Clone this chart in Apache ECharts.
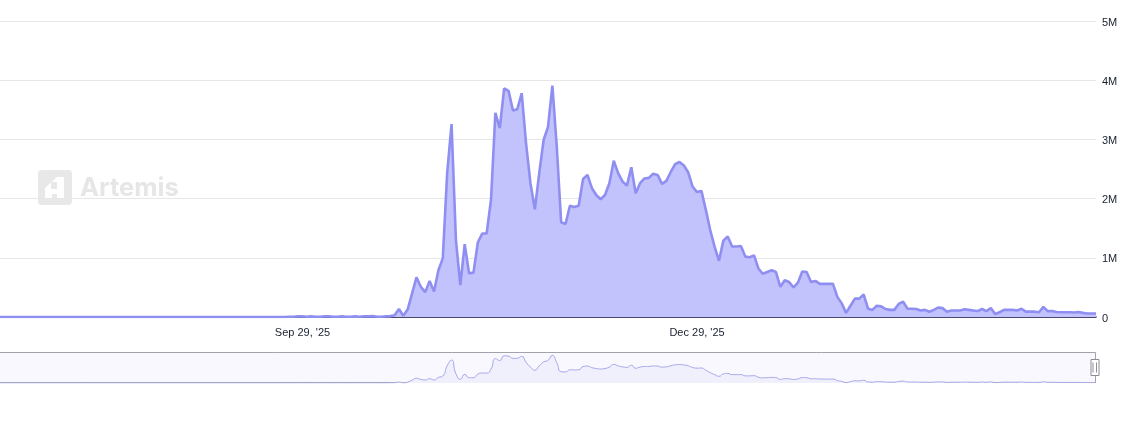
<!DOCTYPE html>
<html>
<head>
<meta charset="utf-8">
<title>Artemis chart</title>
<script src="https://cdn.jsdelivr.net/npm/echarts@6/dist/echarts.min.js"></script>
<style>
  html, body { margin: 0; padding: 0; background: #fff; }
  #chart { width: 1134px; height: 421px; }
</style>
</head>
<body>
<div id="chart"></div>
<script>
const tickLabels = { 69: "Sep 29, '25", 159: "Dec 29, '25" };
const yTicks = { 0: '0', 1000000: '1M', 2000000: '2M', 3000000: '3M', 4000000: '4M', 5000000: '5M' };

// values in millions
const quietStart = [
  0, 0, 0, 0, 0, 0, 0, 0, 0, 0, 0, 0, 0, 0, 0, 0, 0, 0, 0, 0,
  0, 0, 0, 0, 0, 0, 0, 0, 0, 0, 0, 0, 0, 0, 0, 0, 0, 0, 0, 0,
  0, 0, 0, 0, 0, 0, 0, 0, 0, 0, 0, 0, 0, 0, 0, 0, 0, 0, 0, 0,
  0, 0, 0, 0, 0, 0, 0.005, 0.005, 0.01, 0.01, 0.005, 0.01, 0.005, 0.005, 0.01, 0.01, 0.005, 0.005, 0.01, 0.005,
  0.005, 0.01, 0.005, 0.01, 0.01, 0.015, 0.005, 0.005, 0.01, 0.015
];
const launchValues = [
  0.03, 0.135, 0.02, 0.13, 0.40, 0.67, 0.51, 0.42, 0.61, 0.43,
  0.79, 0.99, 2.43, 3.26, 1.30, 0.54, 1.23, 0.74, 0.75, 1.26,
  1.41, 1.41, 1.98, 3.45, 3.19, 3.86, 3.82, 3.49, 3.51, 3.78,
  2.93, 2.26, 1.82, 2.43, 2.99, 3.21, 3.91, 2.88, 1.60, 1.57,
  1.88, 1.86, 1.88
];
const plateauValues = [
  2.33, 2.40, 2.18, 2.06, 1.99, 2.06, 2.26, 2.64, 2.43, 2.29,
  2.22, 2.53, 2.09, 2.26, 2.34, 2.35, 2.42, 2.40, 2.25, 2.30,
  2.45, 2.58, 2.62, 2.56, 2.44, 2.20, 2.11, 2.13, 1.81, 1.47,
  1.19, 0.95, 1.29, 1.36, 1.19, 1.19, 1.20, 1.02, 1.01, 1.04,
  0.82, 0.73, 0.76
];
const tailValues = [
  0.79, 0.76, 0.51, 0.62, 0.59, 0.50, 0.58, 0.77, 0.76, 0.59,
  0.61, 0.56, 0.56, 0.56, 0.56, 0.34, 0.23, 0.07, 0.19, 0.31,
  0.31, 0.38, 0.14, 0.12, 0.19, 0.18, 0.135, 0.12, 0.12, 0.22,
  0.26, 0.14, 0.14, 0.135, 0.11, 0.12, 0.09, 0.12, 0.16, 0.15,
  0.09, 0.11, 0.11, 0.11, 0.13, 0.12, 0.11, 0.10, 0.135, 0.10,
  0.15, 0.05, 0.08, 0.12, 0.12, 0.12, 0.11, 0.14, 0.09, 0.09,
  0.09, 0.08, 0.17, 0.10, 0.10, 0.085, 0.08, 0.08, 0.08, 0.075,
  0.085, 0.07, 0.06, 0.06, 0.06
];

const values = [...quietStart, ...launchValues, ...plateauValues, ...tailValues].map(v => v * 1e6);
const categories = values.map((v, i) => tickLabels[i] || String(i));

const lineColor = '#8f8ff2';
const inkColor = '#18202e';
const logoGray = '#e8e8e8';

const chart = echarts.init(document.getElementById('chart'), null, { renderer: 'canvas' });

chart.setOption({
  animation: false,
  backgroundColor: '#fff',
  grid: [
    { left: 0, right: 38, top: 21, bottom: 104 },
    // overview strip behind the slider
    { left: 0, right: 38, top: 352, height: 31, show: true, backgroundColor: '#f8f8fe', borderWidth: 0 }
  ],
  xAxis: [{
    type: 'category',
    data: categories,
    boundaryGap: false,
    axisLine: { show: true, lineStyle: { color: '#14144a', width: 1.5 } },
    axisTick: { show: false },
    splitLine: { show: false },
    axisLabel: {
      interval: (i) => i in tickLabels,
      color: inkColor,
      fontFamily: 'Liberation Sans',
      fontSize: 11,
      margin: 10,
      hideOverlap: false
    }
  }, {
    type: 'category',
    gridIndex: 1,
    data: categories,
    boundaryGap: false,
    show: false
  }],
  yAxis: [{
    type: 'value',
    position: 'right',
    min: 0,
    max: 5000000,
    interval: 1000000,
    axisLine: { show: false },
    axisTick: { show: false },
    splitLine: { lineStyle: { color: '#e6e6e6', width: 1 } },
    axisLabel: {
      formatter: (v) => yTicks[v],
      color: inkColor,
      fontFamily: 'Liberation Sans',
      fontSize: 11,
      margin: 6,
      verticalAlign: 'top',
      lineHeight: 3
    }
  }, {
    type: 'value',
    gridIndex: 1,
    min: 0,
    max: 4400000,
    show: false
  }],
  dataZoom: [{
    type: 'slider',
    xAxisIndex: 0,
    start: 0,
    end: 100,
    left: -8,
    right: 39,
    top: 352,
    height: 31,
    brushSelect: false,
    showDetail: false,
    showDataShadow: false,
    moveHandleSize: 0,
    borderColor: '#a3a3ab',
    backgroundColor: 'rgba(0,0,0,0)',
    fillerColor: 'rgba(0,0,0,0)',
    handleIcon: 'path://M-4,-8 H4 V8 H-4 Z M-2,-5 V5 M1.5,-5 V5',
    handleSize: 16,
    handleStyle: { color: '#fff', borderColor: '#8d8d95', borderWidth: 1 },
    emphasis: { handleStyle: { color: '#fff', borderColor: '#8d8d95' } }
  }],
  graphic: [{
    type: 'group',
    silent: true,
    z: 0,
    children: [
      { type: 'rect', shape: { x: 38, y: 170, width: 34, height: 35, r: 4 }, style: { fill: logoGray } },
      { type: 'polygon', shape: { points: [[57, 177], [64, 177], [64, 199], [57, 199], [57, 194], [52, 194], [52, 199], [45, 199], [45, 188]] }, style: { fill: '#fff' } },
      { type: 'rect', shape: { x: 51, y: 182, width: 6, height: 7 }, style: { fill: logoGray } },
      { type: 'text', style: { x: 80, y: 188, text: 'Artemis', fill: '#e6e6e6', font: 'bold 25.5px Inter', textVerticalAlign: 'middle' } }
    ]
  }],
  series: [{
    type: 'line',
    data: values,
    showSymbol: false,
    smooth: false,
    lineStyle: { color: lineColor, width: 2.6 },
    areaStyle: { color: 'rgb(194,194,253)', opacity: 1 },
    itemStyle: { color: lineColor },
    z: 3
  }, {
    type: 'line',
    xAxisIndex: 1,
    yAxisIndex: 1,
    data: values,
    showSymbol: false,
    silent: true,
    smooth: 0.6,
    lineStyle: { color: '#a6a6e8', width: 1 },
    areaStyle: { color: '#f0f0fd', opacity: 1 },
    z: 5
  }]
});

window.addEventListener('resize', () => chart.resize());
</script>
</body>
</html>
